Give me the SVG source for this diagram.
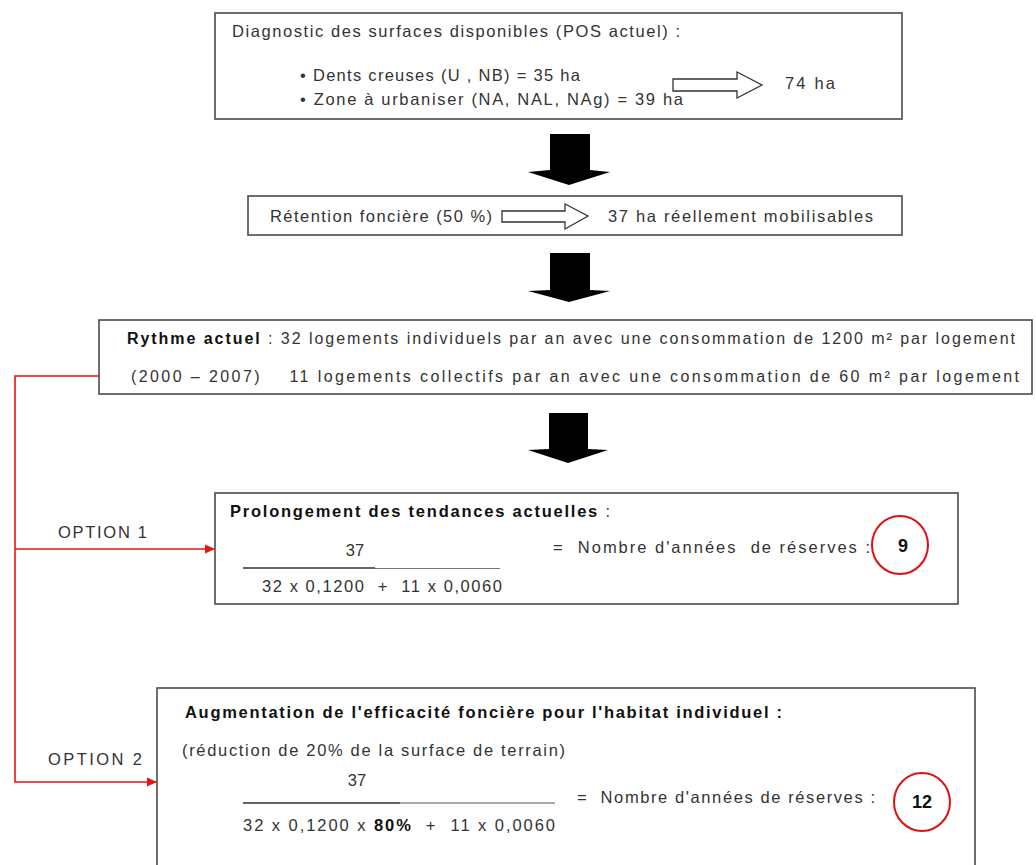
<svg xmlns="http://www.w3.org/2000/svg" width="1036" height="865" viewBox="0 0 1036 865">
<style>
.box{fill:#fff;stroke:#4a4a4a;stroke-width:1.6}
.t{font-family:"Liberation Sans",Arial,sans-serif;font-size:16.5px;fill:#333;white-space:pre}
.s{font-size:16px}
.b{font-weight:bold;fill:#111}
.n{font-size:18px}
.hollow{fill:#fff;stroke:#333;stroke-width:1.3}
.blk{fill:#000}
.red{stroke:#f01010;stroke-width:1.6;fill:none}
.circ{fill:none;stroke:#e01010;stroke-width:2}
</style>
<defs>
<marker id="rh" markerWidth="10" markerHeight="10" refX="9" refY="5" orient="auto" markerUnits="userSpaceOnUse"><path d="M0,0.5 L10,5 L0,9.5 Z" fill="#f01010"/></marker>
</defs>
<rect width="1036" height="865" fill="#fff"/>
<g id="connectors">
<polygon class="blk" points="550,134 590,134 590,170 610,172 569,185 528,172 550,170"/>
<polygon class="blk" points="550,253 590,253 590,290 610,291 569,302 528,291 550,290"/>
<polygon class="blk" points="549,413 588,413 588,449 608,450 568,463 528,450 549,449"/>
<polyline class="red" points="100,376 15,376 15,782 156,782" marker-end="url(#rh)"/>
<line class="red" x1="15" y1="549" x2="214" y2="549" marker-end="url(#rh)"/>
<text class="t" x="58" y="538" textLength="89" lengthAdjust="spacing">OPTION 1</text>
<text class="t" x="48" y="765" textLength="94" lengthAdjust="spacing">OPTION 2</text>
</g>
<g id="diagnostic">
<rect class="box" x="215" y="13" width="687" height="106"/>
<text class="t" x="232" y="37" textLength="448" lengthAdjust="spacing">Diagnostic des surfaces disponibles (POS actuel) :</text>
<text class="t" x="300" y="81" textLength="280" lengthAdjust="spacing">• Dents creuses (U , NB) = 35 ha</text>
<text class="t" x="300" y="105" textLength="383" lengthAdjust="spacing">• Zone à urbaniser (NA, NAL, NAg) = 39 ha</text>
<polygon class="hollow" points="673,79 737,79 737,72 762,85 737,98 737,91 673,91"/>
<text class="t" x="785" y="89" textLength="50" lengthAdjust="spacing">74 ha</text>
</g>
<g id="retention">
<rect class="box" x="248" y="196" width="654" height="39"/>
<text class="t" x="270" y="222" textLength="222" lengthAdjust="spacing">Rétention foncière (50 %)</text>
<polygon class="hollow" points="502,211 565,211 565,204 588,216 565,229 565,222 502,222"/>
<text class="t" x="608" y="222" textLength="265" lengthAdjust="spacing">37 ha réellement mobilisables</text>
</g>
<g id="rythme">
<rect class="box" x="99" y="320" width="933" height="74"/>
<text class="t s" x="127" y="344" textLength="888" lengthAdjust="spacing"><tspan class="b">Rythme actuel</tspan> : 32 logements individuels par an avec une consommation de 1200 m² par logement</text>
<text class="t s" x="131" y="382" textLength="888" lengthAdjust="spacing">(2000 – 2007)    11 logements collectifs par an avec une consommation de 60 m² par logement</text>
</g>
<g id="option1">
<rect class="box" x="215" y="493" width="743" height="111"/>
<text class="t" x="230" y="517" textLength="380" lengthAdjust="spacing"><tspan class="b">Prolongement des tendances actuelles</tspan> :</text>
<text class="t" x="355" y="556" text-anchor="middle">37</text>
<line x1="243" y1="568" x2="375" y2="568" stroke="#333" stroke-width="1.6"/>
<line x1="375" y1="568.5" x2="500" y2="568.5" stroke="#777" stroke-width="1"/>
<text class="t" x="262" y="592" textLength="240" lengthAdjust="spacing">32 x 0,1200  +  11 x 0,0060</text>
<text class="t" x="553" y="553" textLength="317" lengthAdjust="spacing">=  Nombre d'années  de réserves :</text>
<ellipse class="circ" cx="900" cy="545" rx="28" ry="29"/>
<text class="t b n" x="903" y="552" text-anchor="middle">9</text>
</g>
<g id="option2">
<rect class="box" x="157" y="688" width="818" height="190"/>
<text class="t b" x="185" y="718" textLength="597" lengthAdjust="spacing">Augmentation de l'efficacité foncière pour l'habitat individuel :</text>
<text class="t" x="182" y="756" textLength="383" lengthAdjust="spacing">(réduction de 20% de la surface de terrain)</text>
<text class="t" x="357" y="786" text-anchor="middle">37</text>
<line x1="243" y1="803" x2="400" y2="803" stroke="#333" stroke-width="1.6"/>
<line x1="400" y1="803" x2="555" y2="803" stroke="#555" stroke-width="1.2"/>
<text class="t" x="243" y="831" textLength="312" lengthAdjust="spacing">32 x 0,1200 x <tspan class="b">80%</tspan>  +  11 x 0,0060</text>
<text class="t" x="577" y="803" textLength="298" lengthAdjust="spacing">=  Nombre d'années de réserves :</text>
<ellipse class="circ" cx="922" cy="802" rx="28" ry="29"/>
<text class="t b n" x="922" y="808" text-anchor="middle">12</text>
</g>
</svg>
